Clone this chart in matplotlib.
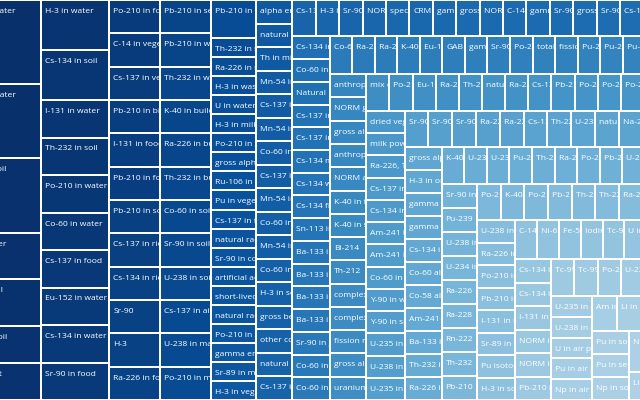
import matplotlib
matplotlib.use("Agg")
import matplotlib.pyplot as plt
from matplotlib.patches import Rectangle

# ---- data: number of records per nuclide / medium ----
labels_high = ["Cs-137 in water", "Ra-226 in water", "Cs-137 in soil", "K-40 in water",
               "U-235 in soil", "Pu-239 in soil", "Sr-90 in diet",
               "H-3 in water", "Cs-134 in soil", "I-131 in water", "Th-232 in soil",
               "Po-210 in water", "Co-60 in water", "Cs-137 in food", "Eu-152 in water",
               "Cs-134 in water", "Sr-90 in food"]
counts_high = [9, 8, 8, 5, 5, 4, 4, 4, 4, 3, 3, 3, 3, 3, 3, 3, 3]

labels_two = ["Po-210 in food", "C-14 in vegetables", "Cs-137 in vegetables", "Pb-210 in biota",
              "I-131 in food", "Pb-210 in food", "Pb-210 in soil", "Cs-137 in rice",
              "Cs-134 in rice", "Sr-90", "H-3", "Ra-226 in food",
              "Pb-210 in sediment", "Pb-210 in water", "Th-232 in water",
              "K-40 in building materials", "Ra-226 in building materials",
              "Th-232 in building materials", "Co-60 in soil", "Sr-90 in soil", "U-238 in soil",
              "Cs-137 in air", "U-238 in marine samples", "Po-210 in mussels",
              "Pb-210 in air"]
count_two = 2

labels_one = [
    "Th-232 in sediment", "Ra-226 in sediment", "H-3 in wastewater", "U in water", "H-3 in milk",
    "Po-210 in seafood", "gross alpha in water", "Ru-106 in seaweed", "Pu in vegetables",
    "Cs-137 in fish", "natural radionuclides in soil", "Sr-90 in cow milk", "artificial activity",
    "short-lived radionuclides", "natural radioactivity", "Po-210 in seaweed", "gamma emitters",
    "Sr-89 in milk", "H-3 in vegetables",
    "alpha emitters", "natural radionuclides", "Th in milk", "Mn-54 in sediment",
    "Cs-137 in sediment", "Mn-54 in fish", "Co-60 in sediment", "Cs-137 in seaweed",
    "Mn-54 in seaweed", "Co-60 in fish", "Mn-54 in water", "Co-60 in seaweed", "H-3 in seawater",
    "gross beta", "other contaminants", "natural uranium", "Cs-137 in mushrooms",
    "Cs-137 in honey", "H-3 in air", "Sr-90 in bone", "NORM in scale", "specific activity", "CRM",
    "gamma dose rate", "gross beta in air", "NORM in sludge", "C-14 in air", "gamma spectrometry",
    "Sr-90 in teeth", "gross alpha in air", "Sr-90 in fish", "Cs-137 in game", "I-129 in water",
    "Tc-99 in seaweed",
    "Cs-134 in vegetables", "Co-60 in vegetables", "Natural radionuclides", "Cs-137 in milk",
    "Cs-137 in grass", "Cs-134 mushrooms", "Cs-134 wild boar", "Cs-134 fish", "Sn-113 in water",
    "Ba-133 in soil", "Ba-133 in water", "Ba-133 in air", "Ba-133 in sediment", "Sr-90 in grass",
    "Co-60 in air", "Co-60 in milk",
    "Co-60 in crops", "Ra-226 in air", "Ra-228 in water", "K-40 in milk", "Eu-154 in soil", "GAB",
    "gamma background", "Sr-90 in air", "Po-210 in air", "total activity", "fission products",
    "Pu-238 in soil", "Pu-239 in water", "Pu-240 in soil", "Am-241 in water", "Cm-244 in soil",
    "anthropogenic radionuclides", "NORM gypsum", "gross alpha in soil", "anthropogenic activity",
    "NORM ash", "K-40 in fish", "K-40 in sand", "Bi-214", "Th-212", "complex samples",
    "complex matrices", "fission nuclides", "gross alpha in food", "uranium isotopes",
    "mix of nuclides", "Po-210 in urine", "Eu-155 in soil", "Ra-226 in milk", "Th-230 in soil",
    "natural series", "Ra-228 in soil", "Cs-137 in wood", "Pb-210 in air filters",
    "Po-210 in fish", "Po-210 in mussels", "Po-210 in tobacco", "Po-210 in rain", "Pb-210 in rain",
    "dried vegetables", "milk powder", "Ra-226, Th-232, K-40", "Cs-137 in cheese",
    "Cs-134 in grass", "Am-241 in soil", "Am-241 in sediment", "Co-60 in sludge", "Y-90 in water",
    "Y-90 in soil", "U-235 in sediment", "U-238 in rock", "U-235 in water",
    "Sr-90 in vegetables", "Sr-90 in hay", "Sr-90 in meat", "Ra-226 in urine", "Ra-228 in food",
    "Cs-137 in tea", "Th-228 in soil", "U-234 in water", "natural gamma", "Na-22 in air",
    "Be-7 in air", "Pb-212 in air",
    "gross alpha in milk", "H-3 in organic matter", "gamma emitters in food",
    "gamma emitters in soil", "Cs-134 in air", "Co-60 alloy", "Co-58 alloy", "Am-241",
    "Ba-133 in food", "Th-232 in rock", "Ra-226 in rock",
    "K-40 in meat", "U-234 in soil", "U-235 in air", "Pu-238 in water", "Th-228 in water",
    "Ra-224 in water", "Po-210 in soil", "Pb-210 in plants", "U-238 in food", "Th-230 in water",
    "Ac-228 in soil",
    "Sr-90 in sediment", "Pu-239", "U-238 in sediment", "U-234 in sediment", "Ra-226", "Ra-228",
    "Rn-222", "Th-232", "Pb-210",
    "Po-214 in air", "K-40 in vegetables", "Po-218 in air", "Pb-214 in air", "Th-234 in soil",
    "Th-227 in water", "Ra-223 in water", "Rn-220", "Bi-212",
    "U-238 in air", "Ra-226 in air filters", "Po-210 in air filters", "Pb-210 in water filters",
    "I-131 in milk", "Sr-89 in water", "Pu isotopes", "H-3 in soil",
    "C-14 in food", "Ni-63 in water", "Fe-55 in water", "Iodine isotopes", "Tc-99 in water",
    "U in soil", "Se-79", "Cl-36",
    "Cs-134 in fish", "Cs-134 in meat", "I-131 in air", "NORM in oil", "NORM in gas",
    "Pb-210 in fish",
    "Tc-99 in sediment", "Tc-99 in soil", "Po-210 in sediment", "U-234 in air", "Zr-95", "Nb-95",
    "U-235 in air filters", "U-238 in air filters", "U in air particulates",
    "Pu in air particulates", "Np in air",
    "Am in soil", "Li in water", "Be in water", "Cm in soil",
    "Pu in soil", "Pu in sediment", "Np in soil",
    "Nb in water", "Ce-144", "Ru-103",
    "Li in soil", "Sb-125"]
count_one = 1

names = labels_high + labels_two + labels_one
values = counts_high + [count_two] * len(labels_two) + [count_one] * len(labels_one)

# stable sort, largest first (as d3 hierarchy.sort)
order = sorted(range(len(values)), key=lambda i: -values[i])
names = [names[i] for i in order]
values = [values[i] for i in order]

PHI = (1 + 5 ** 0.5) / 2


def squarify(vals, x0, y0, x1, y1, ratio=PHI):
    """d3.treemapSquarify"""
    out = []
    n = len(vals)
    i0 = i1 = 0
    value = float(sum(vals))
    while i0 < n:
        dx, dy = x1 - x0, y1 - y0
        sumv = vals[i1]
        i1 += 1
        minv = maxv = sumv
        alpha = max(dy / dx, dx / dy) / (value * ratio)
        beta = sumv * sumv * alpha
        minr = max(maxv / beta, beta / minv)
        while i1 < n:
            nv = vals[i1]
            s = sumv + nv
            mn, mx = min(minv, nv), max(maxv, nv)
            beta = s * s * alpha
            nr = max(mx / beta, beta / mn)
            if nr > minr:
                break
            sumv, minv, maxv, minr = s, mn, mx, nr
            i1 += 1
        row = vals[i0:i1]
        if dx < dy:
            h = dy * sumv / value
            xx = x0
            for v in row:
                w = dx * v / sumv
                out.append((xx, y0, w, h))
                xx += w
            y0 += h
        else:
            w = dx * sumv / value
            yy = y0
            for v in row:
                h = dy * v / sumv
                out.append((x0, yy, w, h))
                yy += h
            x0 += w
        value -= sumv
        i0 = i1
    return out


W, H = 640, 400
OVER = 50.2  # treemap is wider than the view and centred
rects = squarify(values, -OVER, 0, W + OVER, H)

fig = plt.figure(figsize=(6.4, 4.0), dpi=100)
ax = fig.add_axes([0, 0, 1, 1])
ax.set_xlim(0, W)
ax.set_ylim(H, 0)
ax.axis("off")

cmap = matplotlib.colormaps["Blues"]
N = len(rects)
for i, ((x, y, w, h), name) in enumerate(zip(rects, names)):
    t = 1.0 - 0.68 * i / (N - 1)
    r = Rectangle((x + 1, y + 1), w - 2, h - 2, facecolor=cmap(t), edgecolor="none")
    ax.add_patch(r)
    txt = ax.text(x + 4, y + 13, name, fontsize=6.1, color="white",
                  family=["Open Sans", "DejaVu Sans"], va="baseline", ha="left",
                  clip_on=True)
    txt.set_clip_path(r)

fig.savefig("out.png", dpi=100, facecolor="white")
